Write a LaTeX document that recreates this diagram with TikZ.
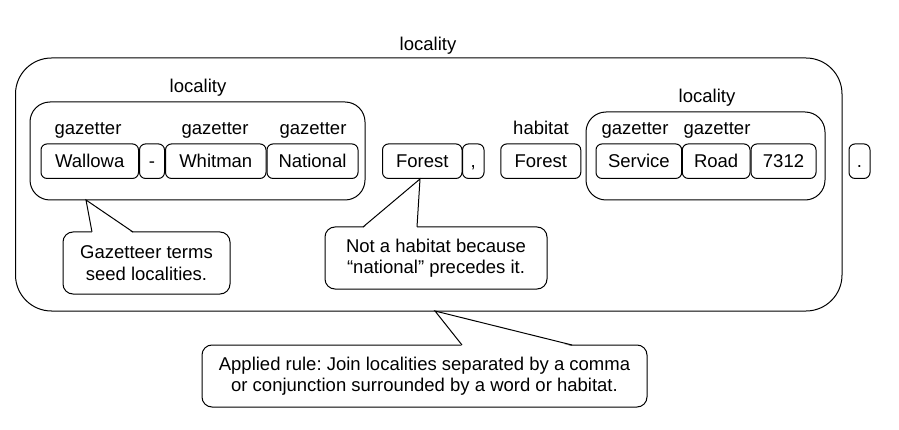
\documentclass[tikz,border=0pt]{standalone}
\usepackage{fontspec}
\setmainfont{Liberation Sans}
\usetikzlibrary{calc}
\frenchspacing
\newcommand\calltail[3]{%
  \fill[white] ($(#1)+(0,1.2)$) -- (#2) -- ($(#3)+(0,1.2)$) -- cycle;
  \draw[line join=miter] (#1) -- (#2) -- (#3);}
\begin{document}
\begin{tikzpicture}[x=1pt,y=-1pt,line width=1pt,
  txt/.style={font=\fontsize{18.5}{21.5}\selectfont},
  lbl/.style={txt,inner sep=0pt,anchor=base},
  tok/.style={txt,draw,rounded corners=6pt,inner sep=0pt,minimum height=34.5pt,text height=13.5pt,text depth=0pt},
  grp/.style={draw,rounded corners=20pt,inner sep=0pt},
  callout/.style={txt,draw,fill=white,rounded corners=10pt,align=center,inner sep=0pt}]
\useasboundingbox (0,0) rectangle (899,430);

% outer locality
\node[draw,rounded corners=36pt,inner sep=0pt,minimum width=826.5pt,minimum height=253pt] (outer) at (428.75,184.5) {};
\node[lbl] (outerlbl) at (428,51) {locality};

% inner locality 1
\node[grp,minimum width=335pt,minimum height=98pt] (loc1) at (197.5,151) {};
\node[lbl] (loc1lbl) at (198,93) {locality};

% inner locality 2
\node[grp,minimum width=239pt,minimum height=88pt] (loc2) at (705.5,156) {};
\node[lbl] (loc2lbl) at (707,103) {locality};

% tokens
\node[tok,minimum width=97.5pt] (wallowa) at (89.75,161.2) {Wallowa};
\node[tok,minimum width=25pt] (dash) at (152,161.2) {-};
\node[tok,minimum width=100.5pt] (whitman) at (215.75,161.2) {Whitman};
\node[tok,minimum width=91pt] (national) at (312.5,161.2) {National};
\node[tok,minimum width=79.5pt] (forest1) at (422.25,161.2) {Forest};
\node[tok,minimum width=21.5pt] (comma) at (473.25,161.2) {,};
\node[tok,minimum width=80pt] (forest2) at (540.75,161.2) {Forest};
\node[tok,minimum width=85.7pt] (service) at (638.85,161.2) {Service};
\node[tok,minimum width=67.7pt] (road) at (716.15,161.2) {Road};
\node[tok,minimum width=65pt] (num) at (783.5,161.2) {7312};
\node[tok,minimum width=21pt] (period) at (859.5,161.2) {.};

% token labels
\node[lbl] (g1) at (88,135) {gazetter};
\node[lbl] (g2) at (215,135) {gazetter};
\node[lbl] (g3) at (313,135) {gazetter};
\node[lbl] (hab) at (541,135) {habitat};
\node[lbl] (g4) at (635,135) {gazetter};
\node[lbl] (g5) at (717,135) {gazetter};

% callout 1
\node[callout,minimum width=167pt,minimum height=62pt] (c1) at (146.5,263) {Gazetteer terms\\seed localities.};
\coordinate (c1a) at (92,232);
\coordinate (c1t) at (86,200);
\coordinate (c1b) at (133,232);
\calltail{c1a}{c1t}{c1b}

% callout 2
\node[callout,minimum width=222pt,minimum height=62pt] (c2) at (436,258) {Not a habitat because\\“national” precedes it.};
\coordinate (c2a) at (363,227);
\coordinate (c2t) at (420,179);
\coordinate (c2b) at (417,227);
\calltail{c2a}{c2t}{c2b}

% callout 3
\node[callout,minimum width=445pt,minimum height=62pt] (c3) at (424.5,376) {Applied rule: Join localities separated by a comma\\or conjunction surrounded by a word or habitat.};
\coordinate (c3a) at (462,345);
\coordinate (c3t) at (435,311);
\coordinate (c3b) at (572,345);
\calltail{c3a}{c3t}{c3b}
\end{tikzpicture}
\end{document}
